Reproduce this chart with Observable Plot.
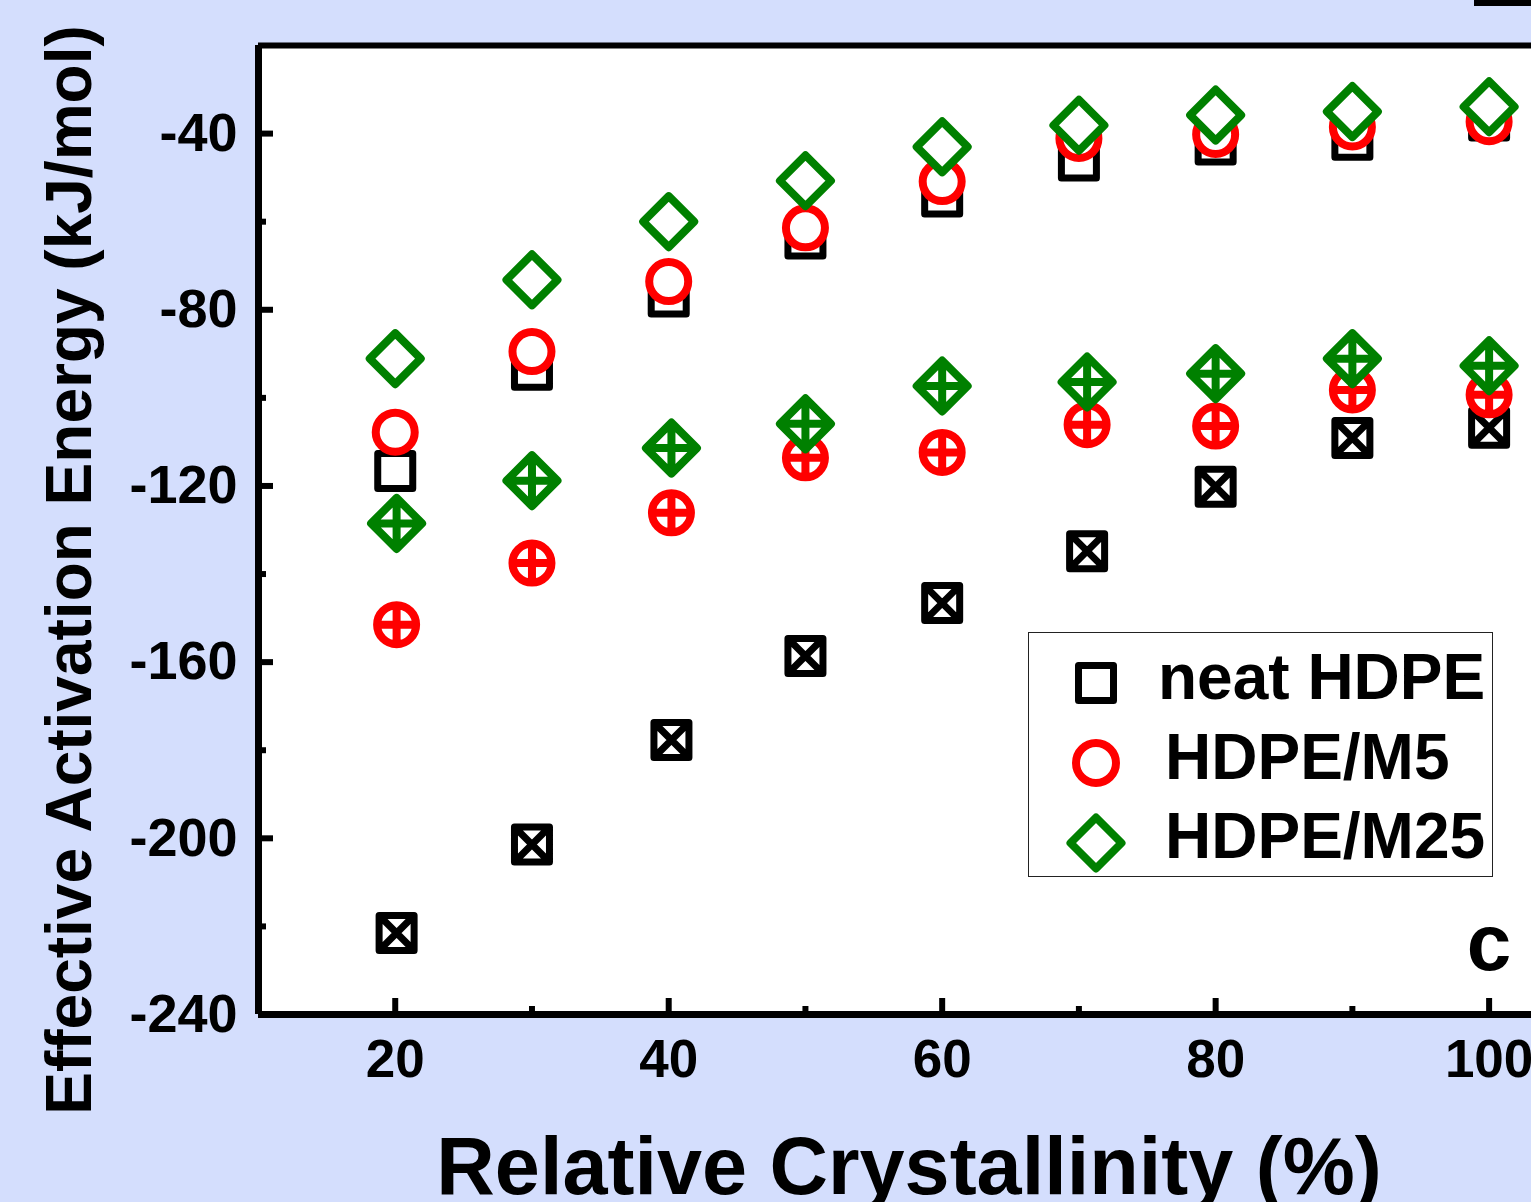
<!DOCTYPE html>
<html><head><meta charset="utf-8">
<script src="https://cdn.jsdelivr.net/npm/d3@7"></script>
<script src="https://cdn.jsdelivr.net/npm/@observablehq/plot@0.6"></script>
<style>
html,body{margin:0;padding:0;background:#d4defd;width:1531px;height:1202px;overflow:hidden;font-family:"Liberation Sans",Arial,sans-serif;}
#wrap{position:relative;width:1531px;height:1202px;}
#wrap svg.plot{position:absolute;left:0;top:0;max-width:none;}
.title{position:absolute;font-weight:bold;color:#000;white-space:nowrap;text-align:center;}
#legend{position:absolute;left:1028px;top:632px;width:465px;height:245px;box-sizing:border-box;border:1.5px solid #222;background:#fff;}
#legend .lt{position:absolute;font-size:64px;line-height:64px;font-weight:bold;color:#000;white-space:nowrap;}
#legend svg{position:absolute;left:0;top:0;}
#bar{position:absolute;left:1474px;top:0;width:57px;height:6px;background:#000;}
</style></head>
<body><div id="wrap"></div>
<script>
// ---- data ----
const crystallinity = [20, 30, 40, 50, 60, 70, 80, 90, 100];
const crystallinityCross = [20.1, 30, 40.2, 50, 60, 70.6, 80, 90, 100];
const neatOpen  = [-116.6, -93.6, -77.0, -63.8, -54.3, -46.1, -42.5, -41.4, -37.0];
const m5Open    = [-107.8, -89.5, -73.6, -61.4, -50.9, -41.1, -40.2, -38.5, -37.3];
const m25Open   = [-91.1, -73.2, -60.0, -50.7, -43.0, -38.1, -35.8, -35.0, -33.9];
const neatCross = [-221.5, -201.4, -177.7, -158.6, -146.6, -134.8, -120.2, -109.1, -106.8];
const m5Cross   = [-151.5, -137.5, -126.1, -113.6, -112.4, -106.1, -106.4, -98.2, -99.3];
const m25Cross  = [-128.5, -118.8, -111.4, -105.9, -97.3, -96.4, -94.5, -91.1, -92.7];
const seriesNames = ["neat HDPE", "HDPE/M5", "HDPE/M25"];
const seriesColors = ["#000000", "#ff0000", "#008000"];
const yMajor = [-240, -200, -160, -120, -80, -40];
const yMinor = [-220, -180, -140, -100, -60];
const xMajor = [20, 40, 60, 80, 100];
const xMinor = [30, 50, 70, 90];
const xTitle = "Relative Crystallinity (%)";
const yTitle = "Effective Activation Energy (kJ/mol)";
const panelLabel = "c";

// ---- symbols ----
const R = s => Math.sqrt(s / Math.PI);
const symSquare = {draw(c, s){const r=R(s);c.moveTo(-r,-r);c.lineTo(r,-r);c.lineTo(r,r);c.lineTo(-r,r);c.closePath();}};
const symSquareX = {draw(c, s){const r=R(s);c.moveTo(-r,-r);c.lineTo(r,-r);c.lineTo(r,r);c.lineTo(-r,r);c.closePath();
  c.moveTo(-r,-r);c.lineTo(r,r);c.moveTo(r,-r);c.lineTo(-r,r);}};
const symCircle = {draw(c, s){const r=R(s);c.moveTo(r,0);c.arc(0,0,r,0,2*Math.PI);c.closePath();}};
const symCirclePlus = {draw(c, s){const r=R(s);c.moveTo(r,0);c.arc(0,0,r,0,2*Math.PI);c.closePath();
  c.moveTo(-r,0);c.lineTo(r,0);c.moveTo(0,-r);c.lineTo(0,r);}};
const symDiamond = {draw(c, s){const r=R(s);c.moveTo(0,-r);c.lineTo(r,0);c.lineTo(0,r);c.lineTo(-r,0);c.closePath();}};
const symDiamondPlus = {draw(c, s){const r=R(s);c.moveTo(0,-r);c.lineTo(r,0);c.lineTo(0,r);c.lineTo(-r,0);c.closePath();
  c.moveTo(-r,0);c.lineTo(r,0);c.moveTo(0,-r);c.lineTo(0,r);}};

const toRows = (xs, ys) => xs.map((x, i) => ({x, y: ys[i]}));
const dotOpts = (sym, r, color, sw) => ({x: "x", y: "y", symbol: sym, r, stroke: color, fill: "#fff", strokeWidth: sw, strokeLinejoin: "round"});

const W = 1531, H = 1202;
const chart = Plot.plot({
  width: W, height: H,
  marginLeft: 258, marginRight: 0, marginTop: 45, marginBottom: H - 1014,
  x: {domain: [10, 103.1]},
  y: {domain: [-240, -20]},
  style: {background: "transparent", fontFamily: "Liberation Sans, Arial, sans-serif", color: "#000", overflow: "hidden"},
  marks: [
    Plot.frame({fill: "#ffffff", stroke: "none"}),
    Plot.axisY(yMajor, {tickSize: 0, tickPadding: 21, tickFormat: d => String(d), fontSize: 54, fontWeight: "bold", label: null}),
    Plot.axisY(yMajor, {tickSize: -15, fill: "none", strokeWidth: 6, label: null}),
    Plot.axisY(yMinor, {tickSize: -8, fill: "none", strokeWidth: 6, label: null}),
    Plot.axisX(xMajor, {tickSize: 0, tickPadding: 25, tickFormat: d => String(d), fontSize: 53, fontWeight: "bold", label: null}),
    Plot.axisX(xMajor, {tickSize: -16, fill: "none", strokeWidth: 6, label: null}),
    Plot.axisX(xMinor, {tickSize: -8, fill: "none", strokeWidth: 6, label: null}),
    Plot.ruleX([10], {stroke: "#000", strokeWidth: 7}),
    Plot.ruleY([-240], {stroke: "#000", strokeWidth: 7}),
    Plot.ruleY([-20], {stroke: "#000", strokeWidth: 6}),
    Plot.dot(toRows(crystallinity, neatOpen), dotOpts(symSquare, 17.5, seriesColors[0], 7)),
    Plot.dot(toRows(crystallinity, m5Open), dotOpts(symCircle, 19.5, seriesColors[1], 8)),
    Plot.dot(toRows(crystallinity, m25Open), dotOpts(symDiamond, 25.5, seriesColors[2], 8)),
    Plot.dot(toRows(crystallinityCross, neatCross), dotOpts(symSquareX, 17.5, seriesColors[0], 7)),
    Plot.dot(toRows(crystallinityCross, m5Cross), dotOpts(symCirclePlus, 19.5, seriesColors[1], 8)),
    Plot.dot(toRows(crystallinityCross, m25Cross), dotOpts(symDiamondPlus, 25.5, seriesColors[2], 8)),
    Plot.text([panelLabel], {x: xMajor[xMajor.length - 1], y: -224, text: d => d, fontSize: 80, fontWeight: "bold", fill: "#000", textAnchor: "middle", lineAnchor: "middle"})
  ]
});
const wrap = document.getElementById("wrap");
wrap.appendChild(chart);

// axis titles
const xt = document.createElement("div");
xt.className = "title";
xt.textContent = xTitle;
Object.assign(xt.style, {left: (909 - 700) + "px", width: "1400px", top: "1126px", fontSize: "81px", lineHeight: "81px"});
wrap.appendChild(xt);

const yt = document.createElement("div");
yt.className = "title";
yt.textContent = yTitle;
Object.assign(yt.style, {left: (69 - 700) + "px", width: "1400px", top: (570 - 32) + "px", height: "64px", fontSize: "64px", lineHeight: "64px", transform: "rotate(-90deg)", transformOrigin: "50% 50%"});
wrap.appendChild(yt);

// legend
const lg = document.createElement("div");
lg.id = "legend";
const ns = "http://www.w3.org/2000/svg";
const lsvg = document.createElementNS(ns, "svg");
lsvg.setAttribute("width", 462); lsvg.setAttribute("height", 242);
const legendSyms = [symSquare, symCircle, symDiamond];
const legendR = [17.5, 20, 25.5];
const legendSW = [7, 8, 8];
const cy = [50, 130, 210];
seriesNames.forEach((name, i) => {
  const p = document.createElementNS(ns, "path");
  const path = d3.path();
  legendSyms[i].draw(path, Math.PI * legendR[i] * legendR[i]);
  p.setAttribute("d", path.toString());
  p.setAttribute("transform", `translate(67,${cy[i]})`);
  p.setAttribute("fill", "#fff");
  p.setAttribute("stroke", seriesColors[i]);
  p.setAttribute("stroke-width", legendSW[i]);
  p.setAttribute("stroke-linejoin", "round");
  lsvg.appendChild(p);
  const t = document.createElement("div");
  t.className = "lt";
  t.textContent = name;
  t.style.left = (i === 0 ? 129 : 136) + "px";
  t.style.top = (12 + i * 79.5) + "px";
  lg.appendChild(t);
});
lg.insertBefore(lsvg, lg.firstChild);
wrap.appendChild(lg);

const bar = document.createElement("div");
bar.id = "bar";
wrap.appendChild(bar);
</script>
</body></html>
